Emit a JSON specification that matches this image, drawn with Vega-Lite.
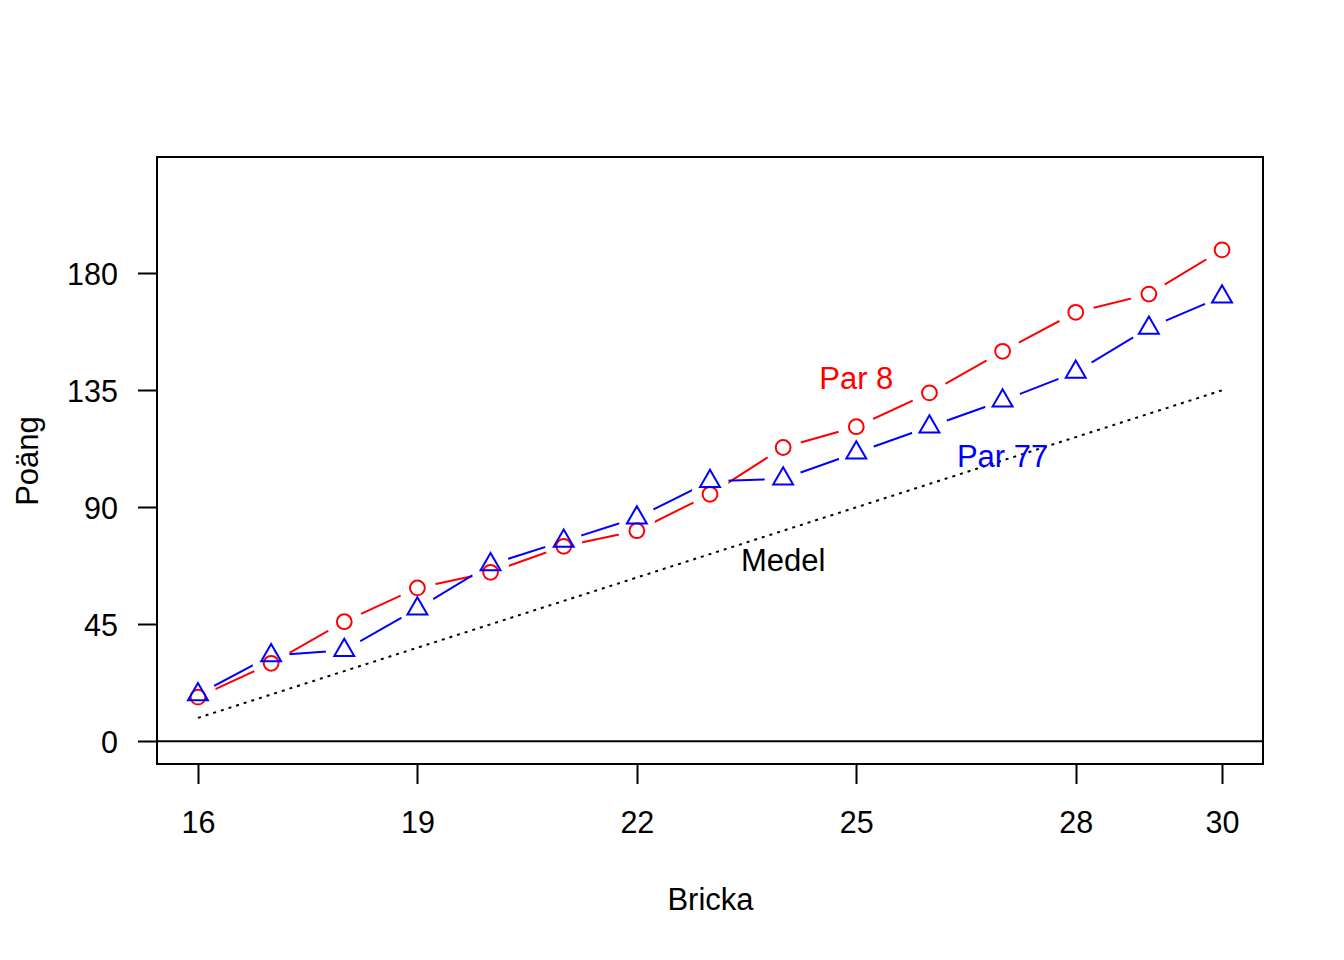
{
  "$schema": "https://vega.github.io/schema/vega-lite/v6.json",
  "width": 1106,
  "height": 607,
  "autosize": {"type": "none"},
  "padding": {"left": 157, "top": 157, "right": 81, "bottom": 196},
  "background": "white",
  "config": {
    "font": "Liberation Sans",
    "view": {"stroke": "black", "strokeWidth": 2},
    "axis": {
      "grid": false,
      "domain": false,
      "tickColor": "black",
      "tickWidth": 2,
      "tickSize": 19.5,
      "labelColor": "black",
      "labelFont": "Liberation Sans",
      "labelFontSize": 30.5,
      "titleFont": "Liberation Sans",
      "titleFontSize": 31,
      "titleFontWeight": "normal",
      "titleColor": "black"
    }
  },
  "datasets": {
    "scores": [
      {"bricka": 16, "serie": "Par 8", "poang": 17},
      {"bricka": 17, "serie": "Par 8", "poang": 30},
      {"bricka": 18, "serie": "Par 8", "poang": 46},
      {"bricka": 19, "serie": "Par 8", "poang": 59},
      {"bricka": 20, "serie": "Par 8", "poang": 65},
      {"bricka": 21, "serie": "Par 8", "poang": 75},
      {"bricka": 22, "serie": "Par 8", "poang": 81},
      {"bricka": 23, "serie": "Par 8", "poang": 95},
      {"bricka": 24, "serie": "Par 8", "poang": 113},
      {"bricka": 25, "serie": "Par 8", "poang": 121},
      {"bricka": 26, "serie": "Par 8", "poang": 134},
      {"bricka": 27, "serie": "Par 8", "poang": 150},
      {"bricka": 28, "serie": "Par 8", "poang": 165},
      {"bricka": 29, "serie": "Par 8", "poang": 172},
      {"bricka": 30, "serie": "Par 8", "poang": 189},
      {"bricka": 16, "serie": "Par 77", "poang": 18},
      {"bricka": 17, "serie": "Par 77", "poang": 33},
      {"bricka": 18, "serie": "Par 77", "poang": 35},
      {"bricka": 19, "serie": "Par 77", "poang": 51},
      {"bricka": 20, "serie": "Par 77", "poang": 68},
      {"bricka": 21, "serie": "Par 77", "poang": 77},
      {"bricka": 22, "serie": "Par 77", "poang": 86},
      {"bricka": 23, "serie": "Par 77", "poang": 100},
      {"bricka": 24, "serie": "Par 77", "poang": 101},
      {"bricka": 25, "serie": "Par 77", "poang": 111},
      {"bricka": 26, "serie": "Par 77", "poang": 121},
      {"bricka": 27, "serie": "Par 77", "poang": 131},
      {"bricka": 28, "serie": "Par 77", "poang": 142},
      {"bricka": 29, "serie": "Par 77", "poang": 159},
      {"bricka": 30, "serie": "Par 77", "poang": 171}
    ],
    "medel": [
      {"bricka": 16, "serie": "Medel", "poang": 9},
      {"bricka": 17, "serie": "Medel", "poang": 18},
      {"bricka": 18, "serie": "Medel", "poang": 27},
      {"bricka": 19, "serie": "Medel", "poang": 36},
      {"bricka": 20, "serie": "Medel", "poang": 45},
      {"bricka": 21, "serie": "Medel", "poang": 54},
      {"bricka": 22, "serie": "Medel", "poang": 63},
      {"bricka": 23, "serie": "Medel", "poang": 72},
      {"bricka": 24, "serie": "Medel", "poang": 81},
      {"bricka": 25, "serie": "Medel", "poang": 90},
      {"bricka": 26, "serie": "Medel", "poang": 99},
      {"bricka": 27, "serie": "Medel", "poang": 108},
      {"bricka": 28, "serie": "Medel", "poang": 117},
      {"bricka": 29, "serie": "Medel", "poang": 126},
      {"bricka": 30, "serie": "Medel", "poang": 135}
    ],
    "labels": [
      {"bricka": 25, "poang": 140, "serie": "Par 8", "label": "Par 8"},
      {"bricka": 27, "poang": 110, "serie": "Par 77", "label": "Par 77"},
      {"bricka": 24, "poang": 70, "serie": "Medel", "label": "Medel"}
    ],
    "zero": [
      {"from": 15.44, "to": 30.56, "poang": 0}
    ]
  },
  "encoding": {
    "x": {
      "field": "bricka",
      "type": "quantitative",
      "scale": {"domain": [15.44, 30.56], "nice": false, "zero": false},
      "axis": {
        "values": [16, 19, 22, 25, 28, 30],
        "title": "Bricka",
        "labelBaseline": "alphabetic",
        "labelPadding": 49,
        "labelFlush": false,
        "labelOverlap": false,
        "titleX": 553,
        "titleY": 145,
        "titleBaseline": "alphabetic",
        "titleAlign": "center"
      }
    },
    "y": {
      "field": "poang",
      "type": "quantitative",
      "scale": {"domain": [-8.73, 224.73], "nice": false, "zero": false},
      "axis": {
        "values": [0, 45, 90, 135, 180],
        "title": "Poäng",
        "labelAlign": "right",
        "labelBaseline": "middle",
        "labelPadding": 20,
        "labelOffset": 2,
        "labelFlush": false,
        "labelOverlap": false,
        "titleX": -120,
        "titleY": 303.5,
        "titleAngle": -90,
        "titleBaseline": "alphabetic",
        "titleAlign": "center"
      }
    },
    "color": {
      "field": "serie",
      "type": "nominal",
      "scale": {"domain": ["Par 8", "Par 77", "Medel"], "range": ["#FF0000", "#0000FF", "#000000"]},
      "legend": null
    }
  },
  "layer": [
    {
      "data": {"name": "zero"},
      "mark": {"type": "rule", "color": "black", "strokeWidth": 2},
      "encoding": {
        "x": {"field": "from", "type": "quantitative"},
        "x2": {"field": "to"},
        "y": {"field": "poang", "type": "quantitative"},
        "color": {"value": "black"}
      }
    },
    {
      "data": {"name": "medel"},
      "mark": {"type": "line", "strokeWidth": 2, "strokeDash": [3, 5], "strokeCap": "butt"}
    },
    {
      "data": {"name": "scores"},
      "mark": {"type": "line", "strokeWidth": 2},
      "encoding": {"detail": {"field": "serie"}}
    },
    {
      "data": {"name": "scores"},
      "mark": {"type": "point", "shape": "circle", "filled": true, "fill": "white", "stroke": null, "size": 1369, "opacity": 1},
      "encoding": {"color": {"value": "white"}}
    },
    {
      "data": {"name": "scores"},
      "transform": [{"filter": "datum.serie === 'Par 8'"}],
      "mark": {"type": "point", "shape": "circle", "filled": false, "strokeWidth": 2, "size": 219, "opacity": 1}
    },
    {
      "data": {"name": "scores"},
      "transform": [{"filter": "datum.serie === 'Par 77'"}],
      "mark": {"type": "point", "shape": "M0,-1L0.866,0.5L-0.866,0.5Z", "filled": false, "strokeWidth": 2, "strokeJoin": "miter", "size": 529, "opacity": 1}
    },
    {
      "data": {"name": "labels"},
      "mark": {"type": "text", "font": "Liberation Sans", "fontSize": 31, "align": "center", "baseline": "middle", "dy": 3},
      "encoding": {"text": {"field": "label"}}
    }
  ]
}
